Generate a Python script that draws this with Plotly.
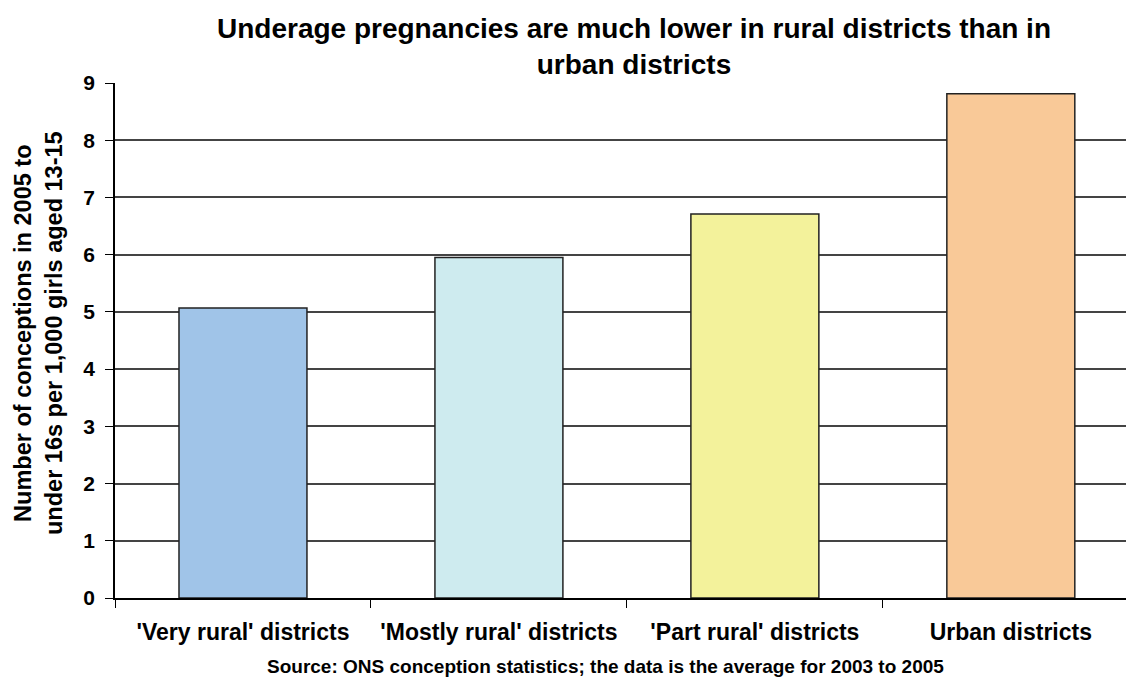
import plotly.graph_objects as go

categories = ["'Very rural' districts", "'Mostly rural' districts", "'Part rural' districts", "Urban districts"]
values = [5.07, 5.95, 6.71, 8.81]
colors = ["#A0C4E8", "#CEEBEF", "#F3F29B", "#F9C998"]

title_text = "Underage pregnancies are much lower in rural districts than in<br>urban districts"
y_title = "Number of conceptions in 2005 to<br>under 16s per 1,000 girls aged 13-15"
source_text = "Source: ONS conception statistics; the data is the average for 2003 to 2005"

FONT = "Liberation Sans, Arial, sans-serif"
L, R, T, B = 115, 0, 83, 80
W, H = 1126, 678
PH = H - T - B
PW = W - L - R


def px_to_paper_x(px):
    return (px - L) / PW


def px_to_paper_y(py):
    return (H - B - py) / PH


fig = go.Figure(go.Bar(
    x=categories, y=values,
    marker=dict(color=colors, line=dict(color="#222222", width=1.5)),
    width=0.5,
))

fig.update_layout(
    width=W, height=H,
    paper_bgcolor="white", plot_bgcolor="white",
    margin=dict(l=L, r=R, t=T, b=B),
    font=dict(family=FONT, color="black"),
    showlegend=False,
)

fig.update_xaxes(
    range=[-0.5, 3.45],
    showline=True, linecolor="black", linewidth=1.5,
    ticks="outside", tickson="boundaries", ticklen=8, tickcolor="black", tickwidth=1,
    tickfont=dict(size=23, family=FONT, color="black"),
    ticklabelstandoff=13,
    showgrid=False,
    tickprefix="<b>", ticksuffix="</b>",
)
fig.update_yaxes(
    range=[0, 9], dtick=1,
    showline=True, linecolor="black", linewidth=1.5,
    ticks="outside", ticklen=8, tickcolor="black",
    tickfont=dict(size=21, family=FONT, color="black"),
    ticklabelstandoff=6,
    showgrid=True, gridcolor="#444444", gridwidth=1.5,
    zeroline=False,
    tickprefix="<b>", ticksuffix="</b>",
)

fig.add_annotation(
    text="<b>" + y_title + "</b>", textangle=-90,
    x=px_to_paper_x(38), y=px_to_paper_y(333),
    xref="paper", yref="paper", xanchor="center", yanchor="middle",
    showarrow=False, font=dict(size=23.5, family=FONT, color="black"),
)

fig.add_annotation(
    text="<b>" + title_text + "</b>",
    x=px_to_paper_x(634), y=px_to_paper_y(47),
    xref="paper", yref="paper", xanchor="center", yanchor="middle",
    showarrow=False, font=dict(size=28, family=FONT, color="black"),
)

fig.add_annotation(
    text="<b>" + source_text + "</b>",
    x=px_to_paper_x(605), y=px_to_paper_y(666),
    xref="paper", yref="paper", xanchor="center", yanchor="middle",
    showarrow=False, font=dict(size=19, family=FONT, color="black"),
)

fig.write_html("out.html", config={"displayModeBar": False},
               post_script="document.body.style.margin='0';document.body.style.padding='0';")
